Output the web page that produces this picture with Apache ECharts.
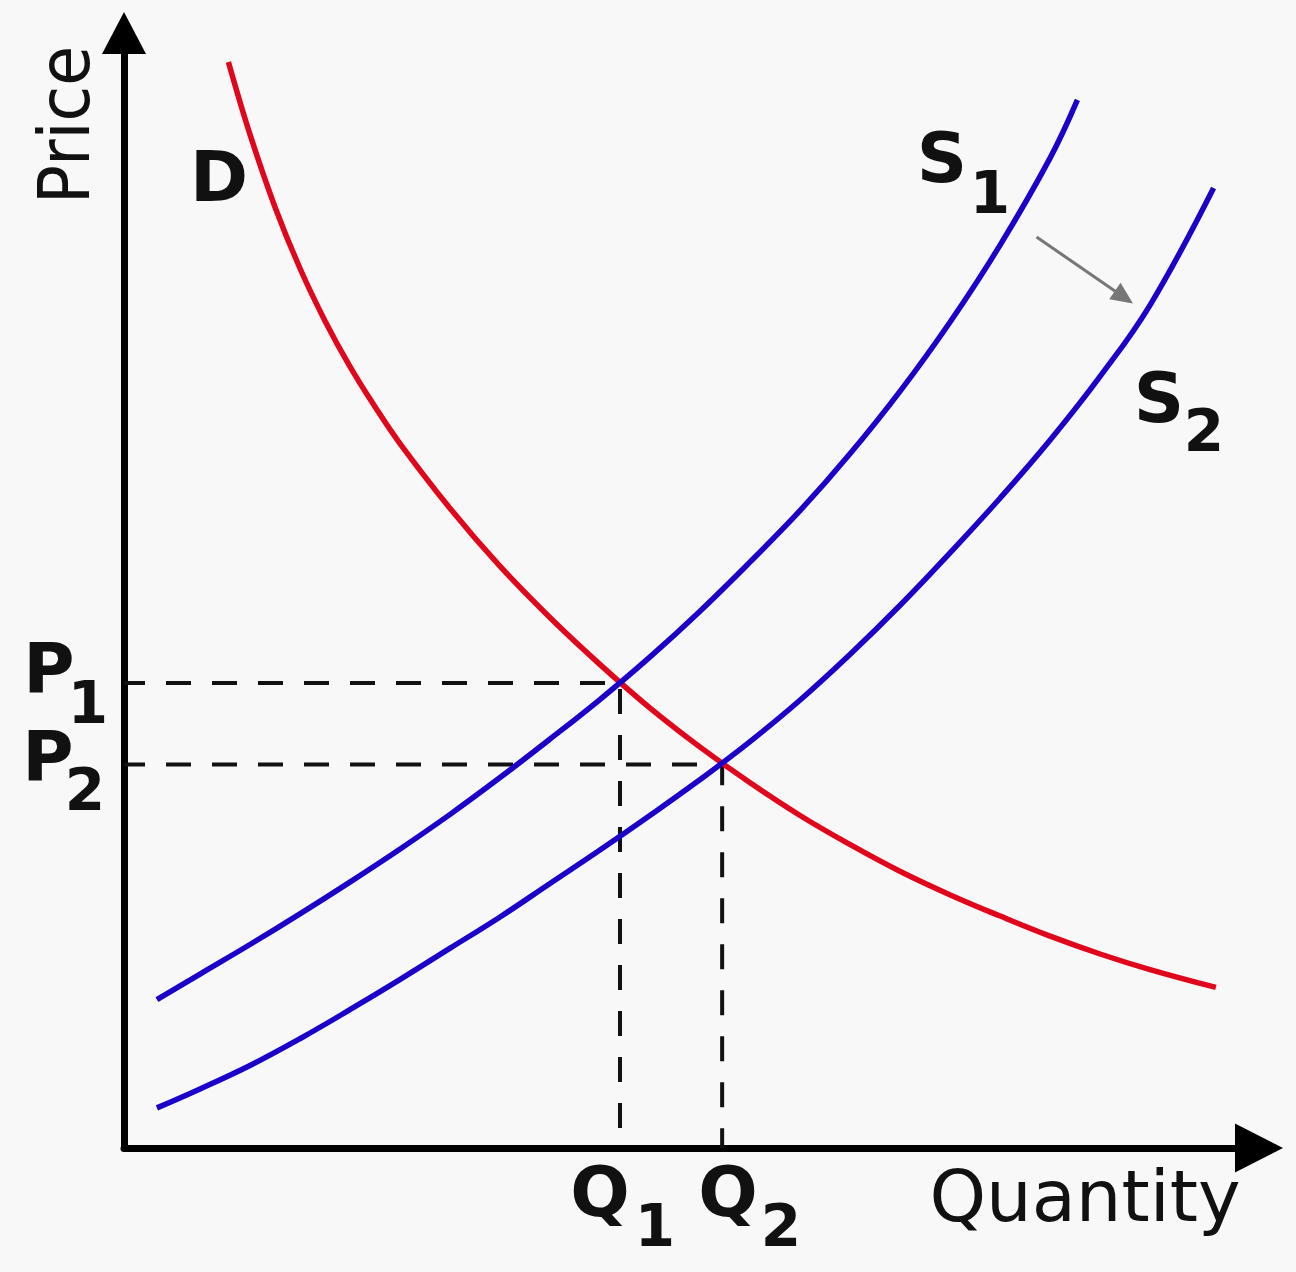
<!DOCTYPE html>
<html>
<head>
<meta charset="utf-8">
<title>Supply and demand</title>
<script src="https://cdn.jsdelivr.net/npm/echarts@6.0.0/dist/echarts.min.js"></script>
<style>
	html, body { margin: 0; padding: 0; background: #f8f8f8; }
	#myChart { width: 1296px; height: 1272px; }
</style>
</head>
<body>
<div id="myChart"></div>
<script>
// curves (quantity on x, price on y, 0-100 units)
var demandQ = [9.2, 11.1, 13.3, 15.5, 17.7, 19.9, 22.1, 24.3, 28.7, 33.1, 37.5, 41.9, 46.3, 50.7, 55.1, 59.6, 64.0, 68.4, 72.8, 77.2, 81.6, 86.0, 90.4, 96.2];
var demandP = [97.4, 90.9, 84.4, 78.9, 74.2, 70.1, 66.5, 63.2, 57.4, 52.2, 47.6, 43.4, 39.5, 36.0, 32.8, 29.8, 27.2, 24.8, 22.7, 20.8, 19.0, 17.4, 16.0, 14.4];

var supply1Q = [2.9, 6.7, 11.1, 15.5, 19.9, 24.3, 28.7, 33.1, 37.5, 41.9, 46.3, 50.7, 55.1, 59.6, 64.0, 68.4, 72.8, 77.2, 81.6, 84.0];
var supply1P = [13.3, 15.6, 18.25, 21.0, 23.85, 26.8, 29.9, 33.2, 36.65, 40.2, 44.0, 48.1, 52.5, 57.2, 62.3, 67.9, 74.1, 81.0, 88.8, 94.0];

var supply2Q = [2.9, 6.7, 11.1, 15.5, 19.9, 24.3, 28.7, 33.1, 37.5, 41.9, 46.3, 50.7, 55.1, 59.6, 64.0, 68.4, 72.8, 77.2, 81.6, 86.0, 90.4, 96.0];
var supply2P = [3.6, 5.3, 7.4, 9.8, 12.4, 15.1, 17.9, 20.7, 23.7, 26.7, 29.8, 33.0, 36.4, 40.2, 44.3, 48.7, 53.4, 58.3, 63.5, 69.2, 75.6, 86.1];

// equilibria: (Q1,P1) and (Q2,P2)
var eqQ = [43.7, 52.7];
var eqP = [41.7, 34.4];

// shift arrow S1 -> S2
var shiftFrom = [80.4, 81.7];
var shiftTo = [88.1, 76.3];

function pairs(xs, ys) {
	var out = [];
	for (var i = 0; i < xs.length; i++) {
		out.push([xs[i], ys[i]]);
	}
	return out;
}

function guide(i) {
	return {
		type: 'line',
		data: [[0, eqP[i]], [eqQ[i], eqP[i]], [eqQ[i], 0]],
		symbol: 'none',
		silent: true,
		z: 1,
		lineStyle: { color: '#111', width: 4, type: [25, 21], dashOffset: 4 }
	};
}

var bold = 'bold 70px "DejaVu Sans"';
var sub = 'bold 58px "DejaVu Sans"';

function txt(text, x, y, font) {
	return {
		type: 'text',
		x: x,
		y: y,
		silent: true,
		style: { text: text, font: font, fill: '#111', align: 'center', verticalAlign: 'middle' }
	};
}

var myChart = echarts.init(document.getElementById('myChart'));
var option = {
	backgroundColor: '#f8f8f8',
	animation: false,
	grid: { left: 124, right: 37, top: 33, bottom: 124 },
	xAxis: {
		type: 'value',
		min: 0,
		max: 100,
		axisLine: {
			show: true,
			symbol: ['none', 'triangle'],
			symbolSize: [49, 48],
			lineStyle: { color: '#000', width: 7 }
		},
		axisTick: { show: false },
		axisLabel: { show: false },
		splitLine: { show: false }
	},
	yAxis: {
		type: 'value',
		min: 0,
		max: 100,
		axisLine: {
			show: true,
			symbol: ['none', 'triangle'],
			symbolSize: [44, 42],
			lineStyle: { color: '#000', width: 7 }
		},
		axisTick: { show: false },
		axisLabel: { show: false },
		splitLine: { show: false }
	},
	series: [
		guide(0),
		guide(1),
		{
			name: 'D',
			type: 'line',
			data: pairs(demandQ, demandP),
			smooth: 0.4,
			symbol: 'none',
			z: 3,
			lineStyle: { color: '#e0061b', width: 5.5 }
		},
		{
			name: 'S1',
			type: 'line',
			data: pairs(supply1Q, supply1P),
			smooth: 0.4,
			symbol: 'none',
			z: 4,
			lineStyle: { color: '#1a00c8', width: 5.5 }
		},
		{
			name: 'S2',
			type: 'line',
			data: pairs(supply2Q, supply2P),
			smooth: 0.4,
			symbol: 'none',
			z: 4,
			lineStyle: { color: '#1a00c8', width: 5.5 },
			markLine: {
				silent: true,
				symbol: ['none', 'triangle'],
				symbolSize: [20, 22],
				label: { show: false },
				lineStyle: { color: '#777', width: 3, type: 'solid' },
				data: [[{ coord: shiftFrom }, { coord: shiftTo }]]
			}
		}
	],
	graphic: [
		{
			type: 'text',
			x: 70,
			y: 125,
			rotation: Math.PI / 2,
			scaleX: 0.9,
			silent: true,
			style: { text: 'Price', font: '72px "DejaVu Sans"', fill: '#111', align: 'center', verticalAlign: 'middle' }
		},
		txt('Quantity', 1085, 1202, '72px "DejaVu Sans"'),
		txt('D', 219, 183, bold),
		txt('S', 942, 164, bold),
		txt('1', 990, 198, sub),
		txt('S', 1159, 404, bold),
		txt('2', 1204, 436, sub),
		txt('P', 49, 675, bold),
		txt('1', 88, 708, sub),
		txt('P', 48, 763, bold),
		txt('2', 85, 795, sub),
		txt('Q', 600, 1198, bold),
		txt('1', 655, 1231, sub),
		txt('Q', 728, 1198, bold),
		txt('2', 781, 1231, sub)
	]
};

myChart.setOption(option);
</script>
</body>
</html>
